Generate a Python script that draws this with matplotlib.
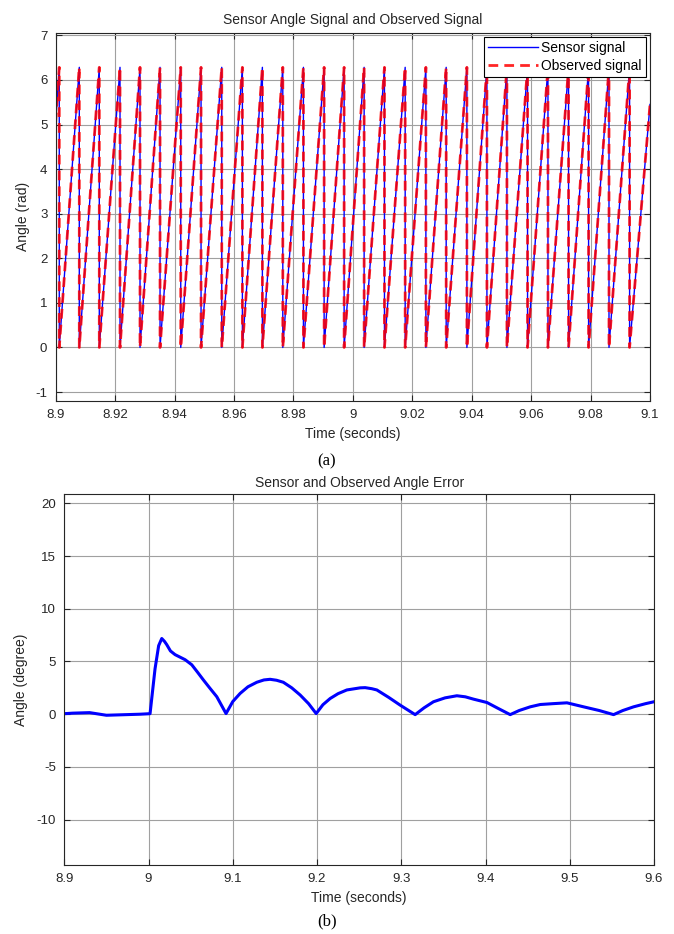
import numpy as np
import matplotlib
matplotlib.use('Agg')
import matplotlib.pyplot as plt

# (a) sawtooth: times where the angle wraps from 2*pi back to 0
wrap_times = [8.90121, 8.90795, 8.91468, 8.92165, 8.92838, 8.93512, 8.94209,
              8.94892, 8.95589, 8.96283, 8.96956, 8.97643, 8.98337, 8.99034,
              8.99707, 9.00380, 9.01064, 9.01761, 9.02458, 9.03141, 9.03838,
              9.04512, 9.05185, 9.05879, 9.06566, 9.07259, 9.07933, 9.08620,
              9.09313]
start_time, start_angle = 8.9, 5.05
end_time, end_angle = 9.1, 5.45
peak_angle = 2 * np.pi

# (b) angle error in degrees
err_t = [8.9, 8.91, 8.93, 8.95, 8.97, 8.99, 9.0018, 9.0077, 9.012, 9.0157,
         9.019, 9.0216, 9.026, 9.0315, 9.0434, 9.0513, 9.058, 9.0651, 9.073,
         9.081, 9.092, 9.10, 9.1087, 9.118, 9.1285, 9.137, 9.1443, 9.152,
         9.16, 9.17, 9.18, 9.19, 9.199, 9.207, 9.2156, 9.225, 9.2354, 9.2512,
         9.2571, 9.265, 9.271, 9.285, 9.2987, 9.3165, 9.327, 9.3382, 9.352,
         9.366, 9.376, 9.3857, 9.4017, 9.415, 9.4293, 9.44, 9.4531, 9.465,
         9.48, 9.4967, 9.5164, 9.535, 9.552, 9.563, 9.5758, 9.59, 9.6]
err_deg = [0.05, 0.1, 0.15, -0.1, -0.05, 0.0, 0.05, 4.3, 6.5, 7.18,
           6.9, 6.6, 6.0, 5.65, 5.17, 4.69, 4.0, 3.25, 2.45,
           1.66, 0.06, 1.2, 1.97, 2.6, 3.03, 3.25, 3.31, 3.22,
           3.03, 2.5, 1.82, 1.0, 0.06, 0.9, 1.49, 1.95, 2.3, 2.5,
           2.52, 2.42, 2.3, 1.6, 0.86, -0.04, 0.6, 1.18, 1.55,
           1.75, 1.65, 1.43, 1.11, 0.55, -0.04, 0.35, 0.7, 0.92,
           1.0, 1.08, 0.7, 0.35, -0.04, 0.35, 0.7, 1.0, 1.18]


def sawtooth_vertices(wraps, t0, a0, t1, a1, peak):
    t = [t0]
    a = [a0]
    for w in wraps:
        t += [w, w]
        a += [peak, 0.0]
    t.append(t1)
    a.append(a1)
    return t, a


plt.rcParams['font.family'] = ['Liberation Sans', 'DejaVu Sans']
plt.rcParams['axes.unicode_minus'] = False
grid_col = '#a0a0a0'
axis_col = '#262626'


def style(ax):
    ax.grid(True, color=grid_col, linewidth=0.8)
    ax.set_axisbelow(True)
    ax.tick_params(direction='in', top=True, right=True, length=4,
                   colors=axis_col, labelsize=9.5, pad=6)
    for s in ax.spines.values():
        s.set_color(axis_col)
        s.set_linewidth(0.8)


fig = plt.figure(figsize=(6.74, 9.34), dpi=100)

ax1 = fig.add_axes([0.0826, 0.5707, 0.8818, 0.3943])
st, sa = sawtooth_vertices(wrap_times, start_time, start_angle, end_time, end_angle, peak_angle)
ax1.plot(st, sa, color='#0000ff', linewidth=1.0, label='Sensor signal')
ax1.plot(st, sa, color='#ff0000', linewidth=2.0, dashes=(3.5, 2.2), alpha=0.85,
         label='Observed signal')
ax1.set_xlim(8.9, 9.1)
ax1.set_ylim(-1.2, 7.06)
ax1.set_xticks(np.arange(8.9, 9.1001, 0.02))
ax1.set_xticklabels(['8.9', '8.92', '8.94', '8.96', '8.98', '9', '9.02',
                     '9.04', '9.06', '9.08', '9.1'])
ax1.set_yticks(range(-1, 8))
style(ax1)
ax1.set_title('Sensor Angle Signal and Observed Signal', fontsize=10,
              color=axis_col, pad=6)
ax1.set_xlabel('Time (seconds)', fontsize=10, color=axis_col, labelpad=4)
ax1.set_ylabel('Angle (rad)', fontsize=10, color=axis_col, labelpad=4)
leg = ax1.legend(loc='upper right', fontsize=10, fancybox=False, framealpha=1,
                 edgecolor='black', borderaxespad=0.3, handlelength=3.6,
                 borderpad=0.3, labelspacing=0.3, handletextpad=0.2)
leg.get_frame().set_linewidth(0.8)

ax2 = fig.add_axes([0.0954, 0.0739, 0.8749, 0.3969])
ax2.plot(err_t, err_deg, color='#0000ff', linewidth=2.2)
ax2.set_xlim(8.9, 9.6)
ax2.set_ylim(-14.3, 20.86)
ax2.set_xticks(np.arange(8.9, 9.6001, 0.1))
ax2.set_xticklabels(['8.9', '9', '9.1', '9.2', '9.3', '9.4', '9.5', '9.6'])
ax2.set_yticks(range(-10, 21, 5))
style(ax2)
ax2.set_title('Sensor and Observed Angle Error', fontsize=10, color=axis_col, pad=5)
ax2.set_xlabel('Time (seconds)', fontsize=10, color=axis_col, labelpad=4)
ax2.set_ylabel('Angle (degree)', fontsize=10, color=axis_col, labelpad=6)

fig.text(0.485, 0.5064, '(a)', ha='center', va='center', fontsize=12,
         family='Liberation Serif')
fig.text(0.485, 0.0139, '(b)', ha='center', va='center', fontsize=12,
         family='Liberation Serif')

fig.savefig('out.png', dpi=100)
